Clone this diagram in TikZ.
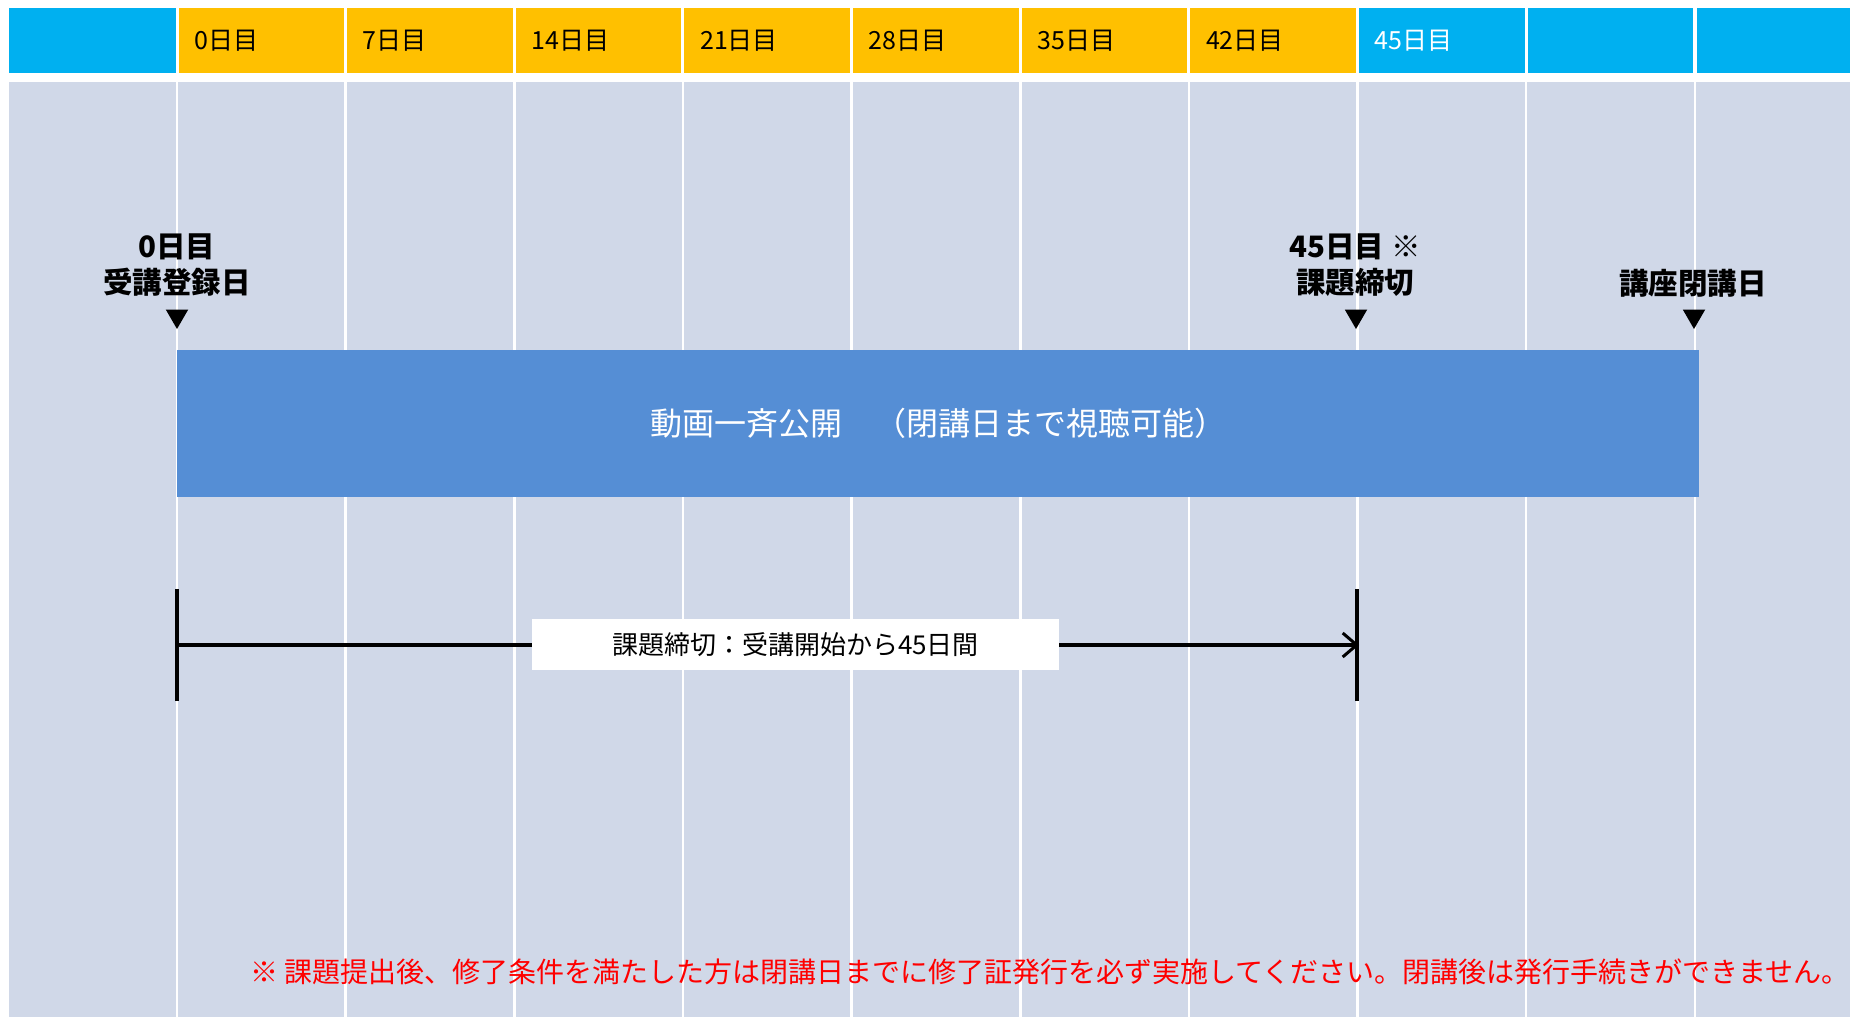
\documentclass[tikz,border=0pt]{standalone}
\usepackage{fontspec}
\setmainfont{Noto Sans CJK JP}
\usetikzlibrary{arrows.meta,shapes.geometric}
\definecolor{hblue}{HTML}{00B0F0}
\definecolor{horange}{HTML}{FFC000}
\definecolor{bodybg}{HTML}{D0D8E8}
\definecolor{barblue}{HTML}{558ED5}
\begin{document}
\begin{tikzpicture}[x=1pt,y=-1pt,
  hcell/.style={draw=none,inner sep=0,minimum width=165.65pt,minimum height=65pt},
  htext/.style={inner sep=0,anchor=west,font=\fontsize{25}{29}\selectfont},
  marklab/.style={inner sep=0,align=center,font=\fontsize{29.5}{36}\selectfont\bfseries},
  tri/.style={regular polygon,regular polygon sides=3,shape border rotate=180,fill=black,inner sep=0,minimum size=26pt},
  span/.style={line width=3.5pt,black},
]
\useasboundingbox (0,0) rectangle (1850,1017);
\def\colw{168.65}
\def\xz{177}
% body
\fill[bodybg] (9,82) rectangle (1850,1017);
\foreach \i in {0,...,9} \draw[white,line width=2.5pt] ({\xz+\i*\colw},82) -- ({\xz+\i*\colw},1017);
% header
\node[hcell,fill=hblue,minimum width=166.5pt,anchor=west] (hL) at (9,40.5) {};
\foreach \i/\lab in {0/0日目,1/7日目,2/14日目,3/21日目,4/28日目,5/35日目,6/42日目}{
  \node[hcell,fill=horange] (h\i) at ({\xz+(\i+0.5)*\colw},40.5) {};
  \node[htext] (ht\i) at ({\xz+\i*\colw+17},40.5) {\lab};
}
\node[hcell,fill=hblue] (h7) at ({\xz+7.5*\colw},40.5) {};
\node[htext,text=white] (ht7) at ({\xz+7*\colw+17},40.5) {45日目};
\node[hcell,fill=hblue] (h8) at ({\xz+8.5*\colw},40.5) {};
\node[hcell,fill=hblue,minimum width=153pt,anchor=west] (h9) at ({\xz+9*\colw+1.5},40.5) {};
% markers
\node[marklab] (m0) at (177,265) {0日目\\受講登録日};
\node[marklab] (m45) at (1355,265) {45日目 ※\\課題締切};
\node[marklab] (mend) at (1693,283) {講座閉講日};
\node[tri] (t0) at (177,316) {};
\node[tri] (t45) at (1356,316) {};
\node[tri] (tend) at (1694,316) {};
% bar
\node[fill=barblue,inner sep=0,minimum width=1522pt,minimum height=147pt,anchor=north west] (bar) at (177,350) {};
\node[text=white,inner sep=0,font=\fontsize{32}{36}\selectfont] (bartext) at (bar.center) {動画一斉公開　（閉講日まで視聴可能）};
% span
\coordinate (sT) at (177,589);
\coordinate (sB) at (177,701);
\coordinate (eT) at (1357,589);
\coordinate (eB) at (1357,701);
\coordinate (s) at (177,645);
\coordinate (e) at (1359,645);
\draw[span] (sT) -- (sB);
\draw[span] (eT) -- (eB);
\draw[span,-{Straight Barb[length=14pt,width=24pt,line width=3pt]}] (s) -- (e);
\node[fill=white,inner sep=0,minimum width=527pt,minimum height=51pt,font=\fontsize{26}{30}\selectfont] (lbl) at (795.5,644.5) {課題締切：受講開始から45日間};
% note
\node[text=red,inner sep=0,anchor=east,font=\fontsize{28}{32}\selectfont] (note) at (1850,972) {※ 課題提出後、修了条件を満たした方は閉講日までに修了証発行を必ず実施してください。閉講後は発行手続きができません。};
\end{tikzpicture}
\end{document}
